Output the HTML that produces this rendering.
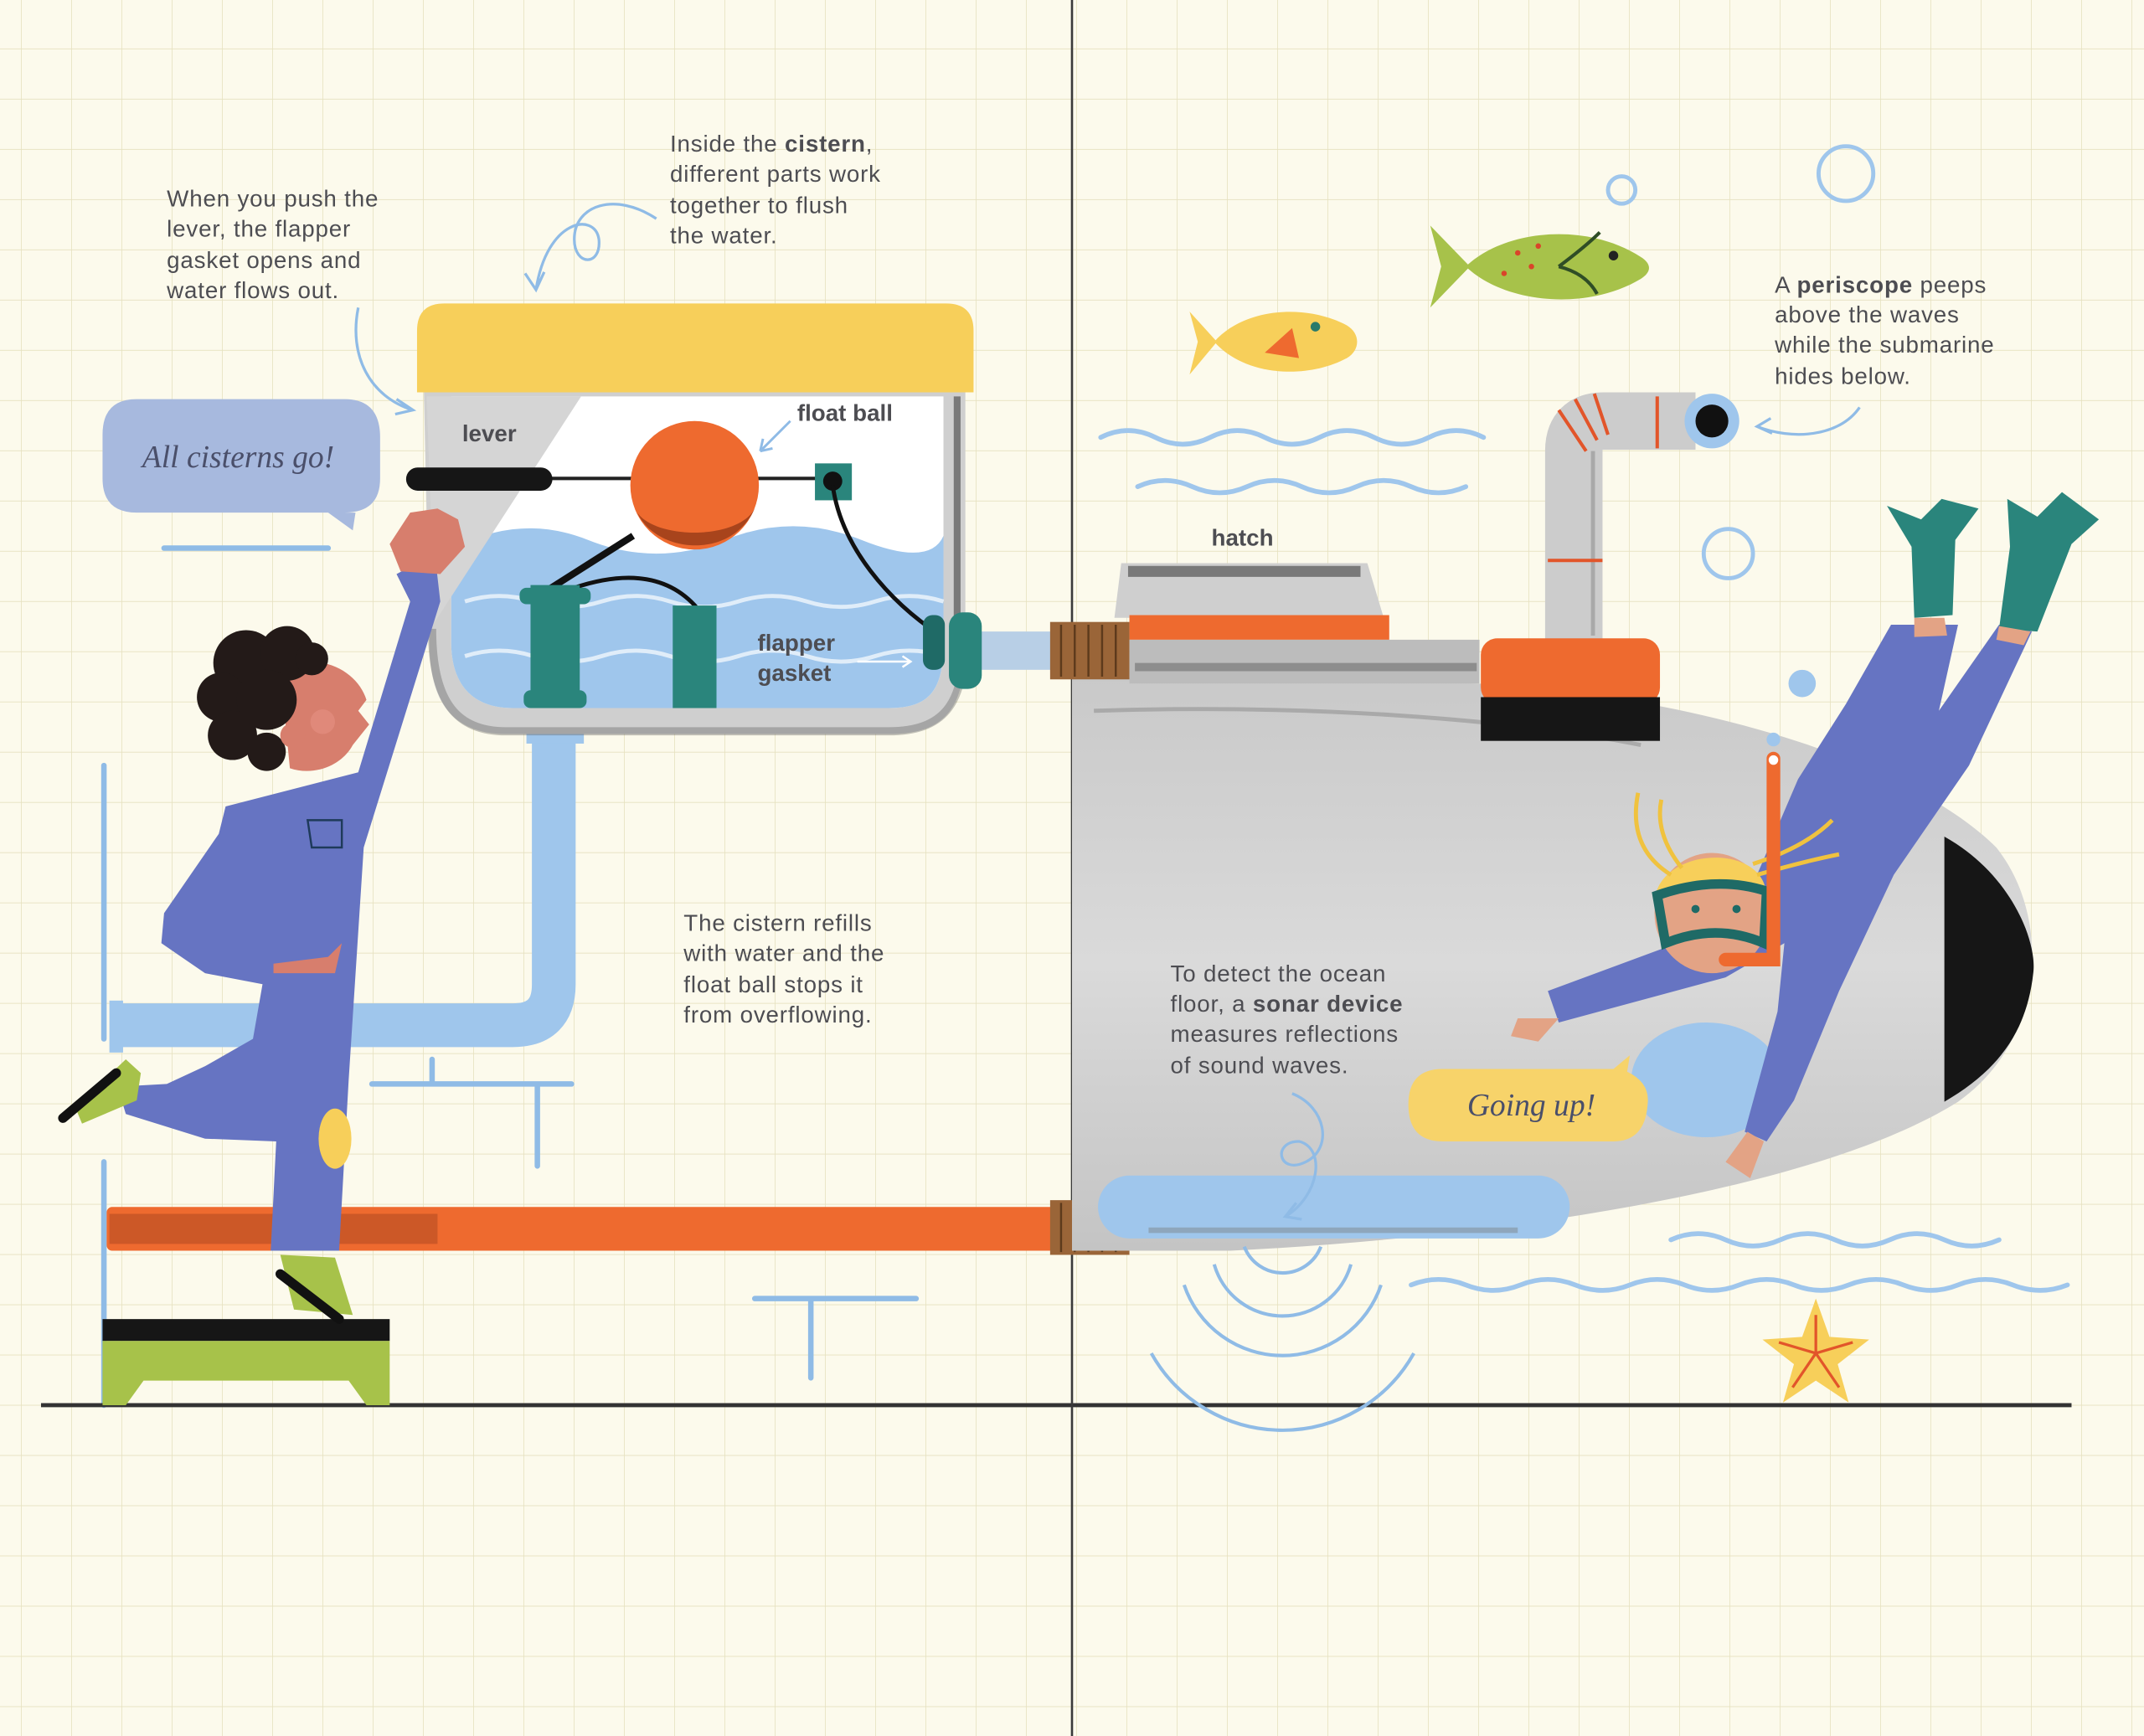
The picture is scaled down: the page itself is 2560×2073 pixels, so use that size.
<!DOCTYPE html>
<html><head><meta charset="utf-8"><style>
html,body{margin:0;padding:0;background:#fcfaec;}
svg{display:block}
text{font-family:"Liberation Sans",sans-serif;fill:#4d4d52}
.t{font-size:17px;letter-spacing:0.5px}
.b{font-weight:bold;font-size:17px}
.s{font-family:"Liberation Serif",serif;font-style:italic;font-size:23px;fill:#4a4f6a}
</style></head><body>
<svg width="2560" height="2073" viewBox="0 0 1568 1270" preserveAspectRatio="none" xmlns="http://www.w3.org/2000/svg">
<defs>
<pattern id="g" x="15.3" y="35.5" width="36.75" height="36.75" patternUnits="userSpaceOnUse">
<path d="M0 0V36.75M0 0H36.75" stroke="#e6e1bf" stroke-width="1"/>
</pattern>
<linearGradient id="sub" x1="0" y1="0" x2="0" y2="1"><stop offset="0" stop-color="#c9c9c9"/><stop offset="0.5" stop-color="#dadada"/><stop offset="1" stop-color="#c4c4c4"/></linearGradient>
</defs>
<rect width="1568" height="1270" fill="#fcfaec"/>
<rect width="1568" height="1270" fill="url(#g)"/>

<g stroke="#8fbbe6" stroke-width="4" fill="none" stroke-linecap="round">
<path d="M76 560V760M76 850V1028"/>
<path d="M120 401H240"/>
<path d="M272 793H418M316 775V793M393 793V853"/>
<path d="M552 950H670M593 950V1008"/>
</g>

<path d="M30 1028H1515" stroke="#333" stroke-width="3"/>
<path d="M784 0V1270" stroke="#3a3a3a" stroke-width="1.6"/>

<path d="M405 540V720Q405 750 375 750H85" stroke="#9fc6ec" stroke-width="32" fill="none"/>
<rect x="80" y="732" width="10" height="38" fill="#9fc6ec"/>
<rect x="385" y="532" width="42" height="12" fill="#9fc6ec"/>

<rect x="78" y="883" width="695" height="32" rx="4" fill="#ee6a2f"/>
<rect x="80" y="888" width="240" height="22" fill="#a2431e" opacity="0.45"/>
<rect x="768" y="878" width="58" height="40" fill="#9a6538"/>
<g stroke="#5d3a1c" stroke-width="1.5"><path d="M776 880V916M786 880V916M796 880V916M806 880V916M816 880V916"/></g>

<path d="M784 495L1080 500C1250 510 1400 560 1460 620C1500 670 1497 760 1432 806C1330 870 1100 905 900 915L784 915Z" fill="url(#sub)"/>
<path d="M1422 612C1472 640 1490 690 1487 712C1482 758 1458 785 1422 806Z" fill="#161616"/>
<path d="M800 520C950 515 1100 525 1200 545" stroke="#888" stroke-width="3" fill="none" opacity="0.5"/>
<path d="M826 883H1125" stroke="#9fc6ec" stroke-width="46" stroke-linecap="round"/>
<path d="M840 900H1110" stroke="#777" stroke-width="4" opacity="0.4"/>
<ellipse cx="1248" cy="790" rx="55" ry="42" fill="#9fc6ec"/>

<rect x="712" y="462" width="60" height="28" fill="#b8cfe6"/>
<rect x="768" y="455" width="58" height="42" fill="#9a6538"/>
<g stroke="#5d3a1c" stroke-width="1.5"><path d="M776 457V495M786 457V495M796 457V495M806 457V495M816 457V495"/></g>
<path d="M820 412L1000 412L1012 452L815 452Z" fill="#cfcfcf"/>
<path d="M825 418H995" stroke="#333" stroke-width="8" opacity="0.55"/>
<rect x="826" y="450" width="190" height="18" fill="#ee6a2f"/>
<rect x="826" y="468" width="256" height="32" fill="#bcbcbc"/>
<path d="M830 488H1080" stroke="#555" stroke-width="6" opacity="0.45"/>

<path d="M1151 470V330Q1151 308 1173 308H1240" stroke="#cccccc" stroke-width="42" fill="none"/>
<path d="M1165 330V465" stroke="#888" stroke-width="3" opacity="0.5"/>
<g stroke="#e2552a" stroke-width="2.5"><path d="M1132 410H1172M1212 290V328M1140 300L1160 330M1152 292L1168 322M1166 288L1176 318"/></g>
<circle cx="1252" cy="308" r="20" fill="#9fc6ec"/>
<circle cx="1252" cy="308" r="12" fill="#111"/>
<rect x="1083" y="467" width="131" height="48" rx="12" fill="#ee6a2f"/>
<rect x="1083" y="510" width="131" height="32" fill="#161616"/>

<g stroke="#9fc6ec" stroke-width="3.5" fill="none" stroke-linecap="round">
<path d="M805 320q20-10 40 0t40 0t40 0t40 0t40 0t40 0t40 0"/>
<path d="M832 356q20-9 40 0t40 0t40 0t40 0t40 0t40 0"/>
<path d="M1222 907q20-9 40 0t40 0t40 0t40 0t40 0t40 0"/>
<path d="M1032 940q20-8 40 0t40 0t40 0t40 0t40 0t40 0t40 0t40 0t40 0t40 0t40 0t40 0"/>
</g>
<g stroke="#8fbbe6" stroke-width="2.5" fill="none">
<path d="M910 912A30 30 0 0 0 966 912"/>
<path d="M888 925A52 52 0 0 0 988 925"/>
<path d="M866 940A76 76 0 0 0 1010 940"/>
<path d="M842 990A110 110 0 0 0 1034 990"/>
</g>

<g stroke="#9fc6ec" stroke-width="3" fill="none">
<circle cx="1186" cy="139" r="10"/><circle cx="1350" cy="127" r="20"/><circle cx="1264" cy="405" r="18"/>
</g>
<circle cx="1318" cy="500" r="10" fill="#9fc6ec"/><circle cx="1297" cy="541" r="5" fill="#9fc6ec"/>

<path d="M888 250C910 225 955 222 985 238C995 244 995 256 985 262C955 278 910 275 888 250Z" fill="#f7cf5a"/>
<path d="M890 250L870 228L876 250L870 274Z" fill="#f7cf5a"/>
<path d="M925 258L945 240L950 262Z" fill="#ee6a2f"/>
<circle cx="962" cy="239" r="3.5" fill="#2a7a6a"/>
<path d="M1072 195C1100 168 1160 162 1200 188C1208 193 1208 199 1200 204C1160 228 1100 222 1072 195Z" fill="#a7c24a"/>
<path d="M1075 195L1046 165L1054 195L1046 225Z" fill="#a7c24a"/>
<path d="M1140 195Q1160 180 1170 170M1140 195Q1160 200 1168 215" stroke="#2f4d26" stroke-width="2.5" fill="none"/>
<circle cx="1180" cy="187" r="3.5" fill="#222"/>
<g fill="#d9452a"><circle cx="1110" cy="185" r="2"/><circle cx="1120" cy="195" r="2"/><circle cx="1100" cy="200" r="2"/><circle cx="1125" cy="180" r="2"/></g>

<path d="M1328 950L1338 978L1367 980L1344 998L1352 1026L1328 1010L1304 1026L1312 998L1289 980L1318 978Z" fill="#f7cf5a"/>
<g stroke="#e2552a" stroke-width="2"><path d="M1328 990L1328 962M1328 990L1355 982M1328 990L1345 1015M1328 990L1311 1015M1328 990L1301 982"/></g>

<path d="M310 285L706 285L706 470C706 520 690 537 650 537L370 537C330 537 314 512 314 470Z" fill="#cfcfcf"/>
<path d="M330 290L690 290L690 470C690 505 680 518 650 518L375 518C345 518 330 500 330 470Z" fill="#fff"/>
<path d="M330 402Q380 375 430 395T530 395T630 395T690 392L690 470C690 505 680 518 650 518L375 518C345 518 330 500 330 470Z" fill="#9fc6ec"/>
<g stroke="#e7f1fb" stroke-width="3" fill="none" opacity="0.9">
<path d="M340 440q25-8 50 0t50 0t50 0t50 0t50 0t50 0t50 0"/>
<path d="M340 480q25-8 50 0t50 0t50 0t50 0t50 0t50 0t50 0"/>
</g>
<path d="M312 290L425 290L318 455Z" fill="#d5d5d5"/>
<path d="M316 460C316 515 335 535 370 535L650 535C690 535 705 515 705 470" stroke="#555" stroke-width="6" fill="none" opacity="0.35"/>
<path d="M700 290V460" stroke="#333" stroke-width="5" opacity="0.55"/>
<path d="M305 287V242Q305 222 325 222H692Q712 222 712 242V287Z" fill="#f7cf5a"/>
<path d="M400 350H610" stroke="#222" stroke-width="2.5"/>
<rect x="297" y="342" width="107" height="17" rx="8.5" fill="#161616"/>
<rect x="596" y="339" width="27" height="27" fill="#2a857c"/>
<circle cx="609" cy="352" r="7" fill="#111"/>
<path d="M609 355C615 400 650 440 688 465" stroke="#111" stroke-width="3" fill="none"/>
<path d="M463 392L400 432" stroke="#111" stroke-width="5"/>
<path d="M420 430Q480 410 510 445" stroke="#111" stroke-width="3" fill="none"/>
<circle cx="508" cy="355" r="47" fill="#ee6a2f"/>
<path d="M466 375C480 405 535 410 552 372C540 395 480 395 466 375Z" fill="#7a2c10" opacity="0.6"/>
<rect x="388" y="428" width="36" height="90" fill="#2a857c"/>
<rect x="380" y="430" width="52" height="12" rx="5" fill="#2a857c"/>
<rect x="383" y="505" width="46" height="13" rx="5" fill="#2a857c"/>
<rect x="492" y="443" width="32" height="75" fill="#2a857c"/>
<rect x="675" y="450" width="16" height="40" rx="7" fill="#1f6a66"/>
<rect x="694" y="448" width="24" height="56" rx="10" fill="#2a857c"/>
<path d="M627 484H666" stroke="#fff" stroke-width="1.5"/><path d="M660 480L666 484L660 488" stroke="#fff" stroke-width="1.5" fill="none"/>
<path d="M578 308L556 330M556 330L558 321M556 330L565 328" stroke="#8fbbe6" stroke-width="1.8" fill="none"/>

<rect x="75" y="965" width="210" height="16" fill="#161616"/>
<path d="M75 981H285V1028H268L255 1010H105L92 1028H75Z" fill="#a7c24a"/>

<g>
<path d="M165 590L262 565L300 440L290 420L318 405L322 440L266 620L255 790L248 915L198 915L202 835L150 833L92 815L86 795L122 793L150 780L185 760L192 720L150 712L118 690L120 668L160 610Z" fill="#6674c2"/>
<ellipse cx="245" cy="833" rx="12" ry="22" fill="#f7cf5a"/>
<path d="M200 705L240 700L250 690L245 712L200 712Z" fill="#d77e6d"/>
<path d="M293 418L285 398L300 375L320 372L335 380L340 400L322 420Z" fill="#d77e6d"/>
<path d="M55 810L92 775L103 785L100 805L60 822Z" fill="#a7c24a"/>
<path d="M46 818L85 785" stroke="#111" stroke-width="7" stroke-linecap="round"/>
<path d="M205 918L245 920L258 962L215 958Z" fill="#a7c24a"/>
<path d="M205 932L248 965" stroke="#111" stroke-width="7" stroke-linecap="round"/>
<path d="M205 490C235 475 262 492 268 512L262 520L270 530L258 545C250 560 230 568 212 562Z" fill="#d77e6d"/>
<circle cx="236" cy="528" r="9" fill="#e0897a"/>
<g fill="#231a18"><circle cx="180" cy="485" r="24"/><circle cx="210" cy="478" r="20"/><circle cx="162" cy="510" r="18"/><circle cx="170" cy="538" r="18"/><circle cx="195" cy="550" r="14"/><circle cx="228" cy="482" r="12"/><circle cx="195" cy="512" r="22"/></g>
<circle cx="214" cy="538" r="9" fill="#d77e6d"/>
<path d="M225 600H250V620H228Z" fill="none" stroke="#1e3a5a" stroke-width="1.5"/>
</g>

<g>
<path d="M1383 457L1432 457L1418 520L1462 457L1486 462L1440 560L1385 640L1345 725L1312 805L1292 835L1276 828L1300 740L1305 690L1262 715L1140 748L1132 725L1232 688L1285 640L1315 570L1350 515Z" fill="#6674c2"/>
<path d="M1380 370L1405 380L1420 365L1447 372L1430 395L1428 450L1400 452L1398 400Z" fill="#2a857c"/>
<path d="M1468 365L1490 378L1508 360L1535 380L1515 398L1490 462L1462 460L1470 400Z" fill="#2a857c"/>
<path d="M1400 452L1422 452L1424 465L1400 466Z" fill="#e3a385"/><path d="M1462 458L1485 462L1480 472L1460 468Z" fill="#e3a385"/>
<path d="M1140 745L1110 745L1105 758L1125 762Z" fill="#e3a385"/>
<path d="M1278 828L1262 850L1280 862L1290 835Z" fill="#e3a385"/>
<ellipse cx="1252" cy="668" rx="42" ry="44" fill="#e3a385"/>
<path d="M1210 660C1212 620 1290 615 1292 655C1270 640 1230 640 1210 660Z" fill="#f7cf5a"/>
<g stroke="#f0c23e" stroke-width="3" fill="none"><path d="M1222 640Q1190 620 1198 580M1230 635Q1210 610 1215 585M1282 632Q1320 620 1340 600M1285 640Q1320 630 1345 625"/></g>
<path d="M1212 655Q1255 640 1292 652L1290 690Q1255 675 1218 690Z" fill="none" stroke="#1f6a66" stroke-width="7"/>
<circle cx="1240" cy="665" r="3" fill="#1f6a66"/><circle cx="1270" cy="665" r="3" fill="#1f6a66"/>
<path d="M1297 555V702H1262" stroke="#ee6a2f" stroke-width="10" fill="none" stroke-linecap="round"/>
<circle cx="1297" cy="556" r="3.5" fill="#fff"/>
</g>

<path d="M100 292H252Q278 292 278 320V350Q278 375 252 375H260L258 388L240 375H100Q75 375 75 350V318Q75 292 100 292Z" fill="#a7b9de"/>
<text x="104" y="342" class="s">All cisterns go!</text>
<path d="M1055 782H1180L1192 772L1190 784Q1207 792 1205 808Q1203 835 1180 835H1055Q1030 835 1030 808Q1030 782 1055 782Z" fill="#f7d36a"/>
<text x="1073" y="816" class="s">Going up!</text>

<g stroke="#8fbbe6" stroke-width="2" fill="none">
<path d="M480 160C450 140 420 150 420 175C420 195 440 195 438 175C435 155 400 160 392 212M384 200L392 212L398 199"/>
<path d="M262 225C255 260 270 290 302 300M290 292L302 300L289 303"/>
<path d="M1360 298C1345 320 1310 322 1285 312M1295 306L1285 312L1296 317"/>
<path d="M945 800C970 810 975 840 955 850C935 860 930 835 950 835C970 840 965 875 940 890M948 880L940 890L952 892"/>
</g>

<text class="t" x="122" y="151">When you push the</text>
<text class="t" x="122" y="173">lever, the flapper</text>
<text class="t" x="122" y="196">gasket opens and</text>
<text class="t" x="122" y="218">water flows out.</text>

<text class="t" x="490" y="111">Inside the <tspan font-weight="bold">cistern</tspan>,</text>
<text class="t" x="490" y="133">different parts work</text>
<text class="t" x="490" y="156">together to flush</text>
<text class="t" x="490" y="178">the water.</text>

<text class="t" x="1298" y="214">A  <tspan font-weight="bold">periscope</tspan> peeps</text>
<text class="t" x="1298" y="236">above the waves</text>
<text class="t" x="1298" y="258">while the submarine</text>
<text class="t" x="1298" y="281">hides below.</text>

<text class="t" x="500" y="681">The cistern refills</text>
<text class="t" x="500" y="703">with water and the</text>
<text class="t" x="500" y="726">float ball stops it</text>
<text class="t" x="500" y="748">from overflowing.</text>

<text class="t" x="856" y="718">To detect the ocean</text>
<text class="t" x="856" y="740">floor, a <tspan font-weight="bold">sonar device</tspan></text>
<text class="t" x="856" y="762">measures reflections</text>
<text class="t" x="856" y="785">of sound waves.</text>

<text class="b" x="338" y="323">lever</text>
<text class="b" x="583" y="308">float ball</text>
<text class="b" x="554" y="476">flapper</text>
<text class="b" x="554" y="498">gasket</text>
<text class="b" x="886" y="399">hatch</text>
</svg>
</body></html>
